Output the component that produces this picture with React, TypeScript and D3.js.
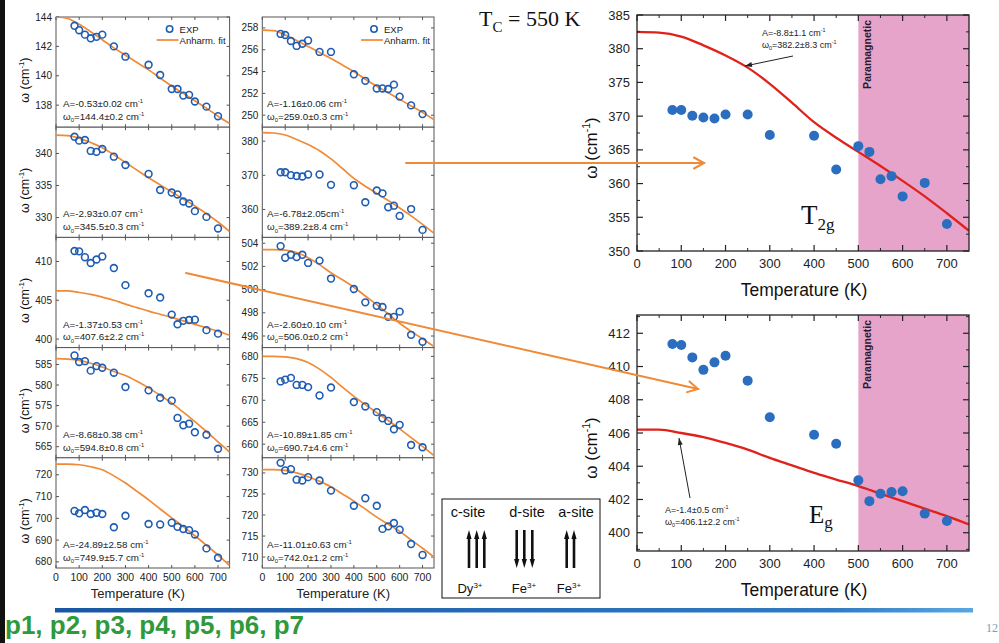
import React from 'react';
import * as d3 from 'd3';

// ---------- data ----------
const temperature = [80, 100, 125, 150, 175, 200, 250, 300, 400, 450, 500, 525, 550, 575, 600, 650, 700];
const fitTemperature = [0, 50, 100, 150, 200, 250, 300, 350, 400, 450, 500, 550, 600, 650, 700, 750];
const xTickValues = [0, 100, 200, 300, 400, 500, 600, 700];

const p1Exp = [143.4, 143.1, 142.8, 142.55, 142.65, 142.8, 142.0, 141.3, 140.75, 140.05, 139.1, 139.1, 138.65, 138.7, 138.25, 137.9, 137.25];
const p1Fit = [144.0, 143.9, 143.5, 143.0, 142.45, 141.9, 141.4, 140.9, 140.4, 139.85, 139.3, 138.8, 138.3, 137.8, 137.25, 136.75];
const p2Exp = [342.6, 342.0, 342.1, 340.4, 340.25, 340.7, 339.5, 338.2, 336.8, 334.3, 333.9, 333.6, 332.5, 332.2, 331.0, 330.1, 328.3];
const p2Fit = [342.85, 342.8, 342.4, 341.7, 340.9, 339.8, 338.6, 337.4, 336.2, 335.1, 334.0, 332.9, 331.8, 330.6, 329.3, 327.8];
const egExp = [411.35, 411.3, 410.55, 409.8, 410.25, 410.65, 409.15, 406.95, 405.9, 405.35, 403.15, 401.9, 402.35, 402.45, 402.5, 401.15, 400.7];
const egFit = [406.2, 406.2, 406.0, 405.75, 405.4, 405.0, 404.5, 404.05, 403.6, 403.2, 402.8, 402.35, 401.9, 401.45, 401.0, 400.5];
const p4Exp = [587.2, 585.6, 585.8, 583.5, 584.6, 584.2, 583.0, 579.5, 578.7, 576.9, 576.2, 572.0, 570.2, 570.6, 568.5, 567.9, 564.5];
const p4Fit = [586.4, 586.3, 586.0, 585.3, 584.4, 583.3, 582.3, 580.9, 579.3, 577.5, 575.6, 573.4, 571.1, 568.7, 566.2, 563.7];
const p5Exp = [703.4, 702.3, 703.8, 702.0, 702.6, 702.0, 695.9, 701.2, 697.4, 697.2, 698.0, 696.1, 695.1, 694.6, 692.6, 686.2, 681.9];
const p5Fit = [724.9, 724.9, 724.6, 723.7, 722.3, 719.5, 716.2, 712.4, 708.5, 704.3, 700.2, 696.2, 692.0, 687.6, 683.1, 678.3];
const q1Exp = [257.45, 257.35, 256.8, 256.35, 256.55, 256.85, 255.8, 255.8, 253.75, 253.15, 252.45, 252.45, 252.4, 252.8, 251.7, 250.9, 250.1];
const q1Fit = [257.8, 257.75, 257.35, 256.85, 256.3, 255.75, 255.2, 254.6, 254.0, 253.3, 252.65, 252.05, 251.45, 250.85, 250.25, 249.6];
const t2gExp = [370.9, 370.9, 370.05, 369.8, 369.65, 370.25, 370.25, 367.2, 367.1, 362.1, 365.55, 364.7, 360.65, 361.1, 358.1, 360.1, 354.0];
const t2gFit = [382.5, 382.4, 381.8, 380.5, 379.0, 377.2, 374.8, 372.0, 369.1, 366.8, 364.7, 362.6, 360.4, 358.1, 355.6, 353.0];
const q3Exp = [503.75, 502.75, 503.0, 502.8, 503.0, 502.3, 502.5, 500.95, 500.05, 498.9, 498.6, 498.5, 497.65, 497.65, 498.1, 496.1, 495.5];
const q3Fit = [503.45, 503.45, 503.4, 503.2, 502.75, 502.15, 501.45, 500.85, 500.2, 499.45, 498.7, 497.9, 497.1, 496.4, 495.75, 495.1];
const q4Exp = [674.3, 674.7, 675.1, 673.5, 673.5, 673.0, 671.1, 672.9, 669.6, 668.6, 667.3, 665.9, 665.3, 663.4, 664.4, 659.8, 659.3];
const q4Fit = [680.0, 680.0, 679.9, 679.5, 678.6, 677.1, 675.2, 673.0, 670.9, 669.0, 667.2, 665.4, 663.5, 661.5, 659.5, 657.4];
const q5Exp = [732.4, 730.6, 730.9, 728.4, 728.2, 729.0, 728.2, 725.8, 722.2, 724.0, 722.2, 716.7, 717.3, 718.1, 716.5, 713.1, 710.5];
const q5Fit = [730.8, 730.8, 730.6, 730.0, 729.1, 728.0, 726.7, 725.0, 723.3, 721.4, 719.5, 717.8, 716.1, 714.1, 712.1, 710.0];

const p1Ticks = [138, 140, 142, 144];
const p2Ticks = [330, 335, 340];
const p3Ticks = [400, 405, 410];
const p4Ticks = [565, 570, 575, 580, 585];
const p5Ticks = [680, 690, 700, 710, 720];
const q1Ticks = [250, 252, 254, 256, 258];
const q2Ticks = [360, 370, 380];
const q3Ticks = [496, 498, 500, 502, 504];
const q4Ticks = [660, 665, 670, 675, 680];
const q5Ticks = [710, 715, 720, 725, 730];
const t2gTicks = [350, 355, 360, 365, 370, 375, 380, 385];
const egTicks = [400, 402, 404, 406, 408, 410, 412];

const ampLabels = ['-0.53±0.02 cm', '-2.93±0.07 cm', '-1.37±0.53 cm', '-8.68±0.38 cm', '-24.89±2.58 cm',
  '-1.16±0.06 cm', '-6.78±2.05cm', '-2.60±0.10 cm', '-10.89±1.85 cm', '-11.01±0.63 cm'];
const omegaLabels = ['144.4±0.2 cm', '345.5±0.3 cm', '407.6±2.2 cm', '594.8±0.8 cm', '749.9±5.7 cm',
  '259.0±0.3 cm', '389.2±8.4 cm', '506.0±0.2 cm', '690.7±4.6 cm', '742.0±1.2 cm'];

// ---------- styling ----------
const SANS = "'Liberation Sans', Arial, Helvetica, sans-serif";
const SERIF = "'Liberation Serif', 'Times New Roman', serif";
const ORANGE = '#f08a36';
const OPEN_BLUE = '#1f5cb3';
const FILL_BLUE = '#2b6dbf';
const RED = '#e0221c';
const PINK = '#e6a4cb';

const colX = [[56, 229.6], [262.3, 434]];
const rowY = [17, 127.2, 237.4, 347.6, 457.8, 568];

const smallSpecs = [
  { c: 0, r: 0, exp: p1Exp, fit: p1Fit, dom: [136.5, 144.0], ticks: p1Ticks },
  { c: 0, r: 1, exp: p2Exp, fit: p2Fit, dom: [326.9, 344.1], ticks: p2Ticks },
  { c: 0, r: 2, exp: egExp, fit: egFit, dom: [398.9, 413.1], ticks: p3Ticks },
  { c: 0, r: 3, exp: p4Exp, fit: p4Fit, dom: [562.3, 589.1], ticks: p4Ticks },
  { c: 0, r: 4, exp: p5Exp, fit: p5Fit, dom: [677.2, 727.8], ticks: p5Ticks },
  { c: 1, r: 0, exp: q1Exp, fit: q1Fit, dom: [248.9, 259.0], ticks: q1Ticks },
  { c: 1, r: 1, exp: t2gExp, fit: t2gFit, dom: [351.8, 384.1], ticks: q2Ticks },
  { c: 1, r: 2, exp: q3Exp, fit: q3Fit, dom: [495.0, 504.5], ticks: q3Ticks },
  { c: 1, r: 3, exp: q4Exp, fit: q4Fit, dom: [656.9, 682.0], ticks: q4Ticks },
  { c: 1, r: 4, exp: q5Exp, fit: q5Fit, dom: [707.4, 733.6], ticks: q5Ticks },
];

function OmegaLabel({ x, y, rotate = false, size }: any) {
  return (
    <text x={x} y={y} fontFamily={SANS} fontSize={size} textAnchor="middle" fill="#111"
      transform={rotate ? `rotate(-90 ${x} ${y})` : undefined}>
      ω (cm<tspan dy={-size * 0.4} fontSize={size * 0.62}>-1</tspan><tspan dy={size * 0.4}>)</tspan>
    </text>
  );
}

function Annot({ x, y, a, w, size }: any) {
  return (
    <g fontFamily={SANS} fontSize={size} fill="#222">
      <text x={x} y={y}>A={a}<tspan dy={-size * 0.4} fontSize={size * 0.6}>-1</tspan></text>
      <text x={x} y={y + size * 1.3}>ω<tspan dy={size * 0.25} fontSize={size * 0.6}>0</tspan>
        <tspan dy={-size * 0.25}>={w}</tspan><tspan dy={-size * 0.4} fontSize={size * 0.6}>-1</tspan></text>
    </g>
  );
}

function SmallPanel({ spec, idx }: any) {
  const [x0, x1] = colX[spec.c];
  const y0 = rowY[spec.r];
  const y1 = rowY[spec.r + 1];
  const xs = d3.scaleLinear().domain([0, 750]).range([x0, x1]);
  const ys = d3.scaleLinear().domain(spec.dom).range([y1, y0]);
  const line = d3.line<number>().x((_, i) => xs(fitTemperature[i])).y(d => ys(d)).curve(d3.curveMonotoneX);
  const clipId = `clip-small-${idx}`;
  const bottom = spec.r === 4;
  return (
    <g>
      <defs><clipPath id={clipId}><rect x={x0} y={y0} width={x1 - x0} height={y1 - y0} /></clipPath></defs>
      <rect x={x0} y={y0} width={x1 - x0} height={y1 - y0} fill="#fff" stroke="#555" strokeWidth={1} />
      {spec.ticks.map((t: number) => (
        <g key={t}>
          <line x1={x0} x2={x0 + 3} y1={ys(t)} y2={ys(t)} stroke="#555" />
          <line x1={x1} x2={x1 - 3} y1={ys(t)} y2={ys(t)} stroke="#555" />
          <text x={x0 - 4} y={ys(t)} dy="0.35em" textAnchor="end" fontFamily={SANS} fontSize={10} fill="#222">{t}</text>
        </g>
      ))}
      {xTickValues.map(t => (
        <g key={t}>
          <line x1={xs(t)} x2={xs(t)} y1={y1} y2={y1 - 3} stroke="#555" />
          <line x1={xs(t)} x2={xs(t)} y1={y0} y2={y0 + 3} stroke="#555" />
        </g>
      ))}
      <g clipPath={`url(#${clipId})`}>
        <path d={line(spec.fit) || ''} fill="none" stroke={ORANGE} strokeWidth={1.7} />
        {spec.exp.map((v: number, i: number) => (
          <circle key={i} cx={xs(temperature[i])} cy={ys(v)} r={3.4} fill="none" stroke={OPEN_BLUE} strokeWidth={1.6} />
        ))}
      </g>
      <Annot x={spec.c === 0 ? 63 : 267} y={y1 - 20} a={ampLabels[idx]} w={omegaLabels[idx]} size={9.8} />
      {spec.c === 0 && <OmegaLabel x={29} y={(y0 + y1) / 2 + 8} rotate size={12.5} />}
      {spec.r === 0 && (
        <g fontFamily={SANS} fontSize={9.5} fill="#222">
          <circle cx={x1 - 60} cy={y0 + 12} r={3.2} fill="none" stroke={OPEN_BLUE} strokeWidth={1.6} />
          <text x={x1 - 50} y={y0 + 16}>EXP</text>
          <line x1={x1 - 73} x2={x1 - 51} y1={y0 + 23} y2={y0 + 23} stroke={ORANGE} strokeWidth={1.7} />
          <text x={x1 - 50} y={y0 + 27}>Anharm. fit</text>
        </g>
      )}
      {bottom && (
        <g fontFamily={SANS} fill="#222">
          {xTickValues.map(t => (
            <text key={t} x={xs(t)} y={y1 + 13} textAnchor="middle" fontSize={10.5}>{t}</text>
          ))}
          <text x={(x0 + x1) / 2 - 5} y={y1 + 30} textAnchor="middle" fontSize={13}>Temperature (K)</text>
        </g>
      )}
    </g>
  );
}

function headPoints(x1: number, y1: number, x2: number, y2: number, len: number, half: number) {
  const a = Math.atan2(y2 - y1, x2 - x1);
  const bx = x2 - len * Math.cos(a), by = y2 - len * Math.sin(a);
  const px = -Math.sin(a) * half, py = Math.cos(a) * half;
  return [[bx + px, by + py], [x2, y2], [bx - px, by - py]];
}

function OpenArrow({ x1, y1, x2, y2 }: any) {
  const h = headPoints(x1, y1, x2, y2, 10, 5.5);
  return (
    <g stroke={ORANGE} strokeWidth={2} fill="none" strokeLinecap="round">
      <line x1={x1} y1={y1} x2={x2} y2={y2} />
      <polyline points={h.map(p => p.join(',')).join(' ')} />
    </g>
  );
}

function ThinArrow({ x1, y1, x2, y2 }: any) {
  const h = headPoints(x1, y1, x2, y2, 7, 2.5);
  return (
    <g>
      <line x1={x1} y1={y1} x2={x2} y2={y2} stroke="#222" strokeWidth={1} />
      <polygon points={h.map(p => p.join(',')).join(' ')} fill="#222" />
    </g>
  );
}

function RightPanel({ y0, y1, dom, ticks, minorStep, exp, fit, annot, label }: any) {
  const x0 = 637, x1 = 969;
  const xs = d3.scaleLinear().domain([0, 750]).range([x0, x1]);
  const ys = d3.scaleLinear().domain(dom).range([y1, y0]);
  const line = d3.line<number>().x((_, i) => xs(fitTemperature[i])).y(d => ys(d)).curve(d3.curveMonotoneX);
  const minorX = d3.range(50, 750, 100);
  const minorY = d3.range(Math.ceil(dom[0] / minorStep) * minorStep, dom[1], minorStep).filter(v => !ticks.includes(+v.toFixed(3)));
  const clipId = `clip-right-${y0}`;
  return (
    <g>
      <defs><clipPath id={clipId}><rect x={x0} y={y0} width={x1 - x0} height={y1 - y0} /></clipPath></defs>
      <rect x={x0} y={y0} width={x1 - x0} height={y1 - y0} fill="#fff" />
      <rect x={xs(500)} y={y0} width={x1 - xs(500)} height={y1 - y0} fill={PINK} />
      <text transform={`translate(${xs(500) + 13},${y0 + 5}) rotate(-90)`} textAnchor="end" fontFamily={SANS}
        fontSize={10.5} fontWeight="bold" fill="#2a1a2a">Paramagnetic</text>
      <g clipPath={`url(#${clipId})`}>
        <path d={line(fit) || ''} fill="none" stroke={RED} strokeWidth={2.3} />
        {exp.map((v: number, i: number) => (
          <circle key={i} cx={xs(temperature[i])} cy={ys(v)} r={5} fill={FILL_BLUE} />
        ))}
      </g>
      <rect x={x0} y={y0} width={x1 - x0} height={y1 - y0} fill="none" stroke="#222" strokeWidth={1.3} />
      {xTickValues.map(t => (
        <g key={t}>
          <line x1={xs(t)} x2={xs(t)} y1={y1} y2={y1 - 6} stroke="#222" strokeWidth={1.2} />
          <line x1={xs(t)} x2={xs(t)} y1={y0} y2={y0 + 6} stroke="#222" strokeWidth={1.2} />
          <text x={xs(t)} y={y1 + 17} textAnchor="middle" fontFamily={SANS} fontSize={13} fill="#222">{t}</text>
        </g>
      ))}
      {minorX.map(t => (
        <g key={t}>
          <line x1={xs(t)} x2={xs(t)} y1={y1} y2={y1 - 3} stroke="#222" />
          <line x1={xs(t)} x2={xs(t)} y1={y0} y2={y0 + 3} stroke="#222" />
        </g>
      ))}
      {ticks.map((t: number) => (
        <g key={t}>
          <line x1={x0} x2={x0 + 6} y1={ys(t)} y2={ys(t)} stroke="#222" strokeWidth={1.2} />
          <line x1={x1} x2={x1 - 6} y1={ys(t)} y2={ys(t)} stroke="#222" strokeWidth={1.2} />
          <text x={x0 - 7} y={ys(t)} dy="0.35em" textAnchor="end" fontFamily={SANS} fontSize={13} fill="#222">{t}</text>
        </g>
      ))}
      {minorY.map((t: number) => (
        <g key={t}>
          <line x1={x0} x2={x0 + 3} y1={ys(t)} y2={ys(t)} stroke="#222" />
          <line x1={x1} x2={x1 - 3} y1={ys(t)} y2={ys(t)} stroke="#222" />
        </g>
      ))}
      <OmegaLabel x={597} y={(y0 + y1) / 2 + 15} rotate size={17} />
      <text x={804} y={y1 + 45} textAnchor="middle" fontFamily={SANS} fontSize={17.5} fill="#111">Temperature (K)</text>
      <Annot x={annot.x} y={annot.y} a={annot.a} w={annot.w} size={9} />
      <ThinArrow {...annot.arrow} />
      {label}
    </g>
  );
}

function UpDownArrow({ x, up }: any) {
  const top = 530, bot = 568;
  const tipY = up ? top : bot;
  const baseY = up ? top + 9 : bot - 9;
  return (
    <g>
      <line x1={x} x2={x} y1={up ? bot : top} y2={baseY} stroke="#111" strokeWidth={2.6} />
      <polygon points={`${x - 2.6},${baseY} ${x + 2.6},${baseY} ${x},${tipY}`} fill="#111" />
    </g>
  );
}

export default function App() {
  return (
    <svg width={999} height={643} style={{ position: 'absolute', left: 0, top: 0, background: '#fff' }}>
      <rect x={0} y={0} width={999} height={643} fill="#fff" />
      <rect x={0} y={0} width={5} height={643} fill="#111" />

      {smallSpecs.map((s, i) => <SmallPanel key={i} spec={s} idx={i} />)}

      <text x={479} y={26} fontFamily={SERIF} fontSize={22} fill="#111">T<tspan dy={6} fontSize={15}>C</tspan>
        <tspan dy={-6}> = 550 K</tspan></text>

      <RightPanel y0={15} y1={251} dom={[350, 385]} ticks={t2gTicks} minorStep={2.5} exp={t2gExp} fit={t2gFit}
        annot={{ x: 762, y: 36, a: '-8.8±1.1 cm', w: '382.2±8.3 cm', arrow: { x1: 793, y1: 56, x2: 745, y2: 66 } }}
        label={<text x={801} y={224} fontFamily={SERIF} fontSize={27} fill="#111">T<tspan dy={6} fontSize={17}>2g</tspan></text>} />
      <RightPanel y0={315} y1={551} dom={[398.9, 413.1]} ticks={egTicks} minorStep={1} exp={egExp} fit={egFit}
        annot={{ x: 665, y: 513, a: '-1.4±0.5 cm', w: '406.1±2.2 cm', arrow: { x1: 690, y1: 498, x2: 679, y2: 438 } }}
        label={<text x={809} y={523} fontFamily={SERIF} fontSize={25} fill="#111">E<tspan dy={5} fontSize={17}>g</tspan></text>} />

      {/* site diagram */}
      <rect x={442} y={499} width={158} height={99} fill="#fff" stroke="#111" strokeWidth={1} />
      <g fontFamily={SANS} fontSize={14.5} fill="#111" textAnchor="middle">
        <text x={468} y={517}>c-site</text>
        <text x={527} y={517}>d-site</text>
        <text x={576} y={517}>a-site</text>
      </g>
      {[469, 476.7, 484.3].map(x => <UpDownArrow key={x} x={x} up />)}
      {[516.7, 524.3, 532.3].map(x => <UpDownArrow key={x} x={x} up={false} />)}
      {[566.7, 574].map(x => <UpDownArrow key={x} x={x} up />)}
      <g fontFamily={SANS} fontSize={13} fill="#111" textAnchor="middle">
        <text x={470} y={593}>Dy<tspan dy={-5} fontSize={8}>3+</tspan></text>
        <text x={524} y={593}>Fe<tspan dy={-5} fontSize={8}>3+</tspan></text>
        <text x={569} y={593}>Fe<tspan dy={-5} fontSize={8}>3+</tspan></text>
      </g>

      {/* orange connecting arrows */}
      <OpenArrow x1={406} y1={163} x2={704} y2={163} />
      <OpenArrow x1={186} y1={273} x2={698} y2={389} />

      {/* footer */}
      <defs>
        <linearGradient id="barGrad" x1="0" x2="1" y1="0" y2="0">
          <stop offset="0" stopColor="#1a56a3" />
          <stop offset="0.85" stopColor="#2f7cc4" />
          <stop offset="1" stopColor="#5aa8e2" />
        </linearGradient>
      </defs>
      <rect x={55} y={608} width={918} height={4.5} fill="url(#barGrad)" />
      <text x={5} y={634} fontFamily={SANS} fontWeight="bold" fontSize={26} fill="#2f9a3c">p1, p2, p3, p4, p5, p6, p7</text>
      <text x={986} y={632} fontFamily={SERIF} fontSize={12} fill="#7a9cc0">12</text>
    </svg>
  );
}
